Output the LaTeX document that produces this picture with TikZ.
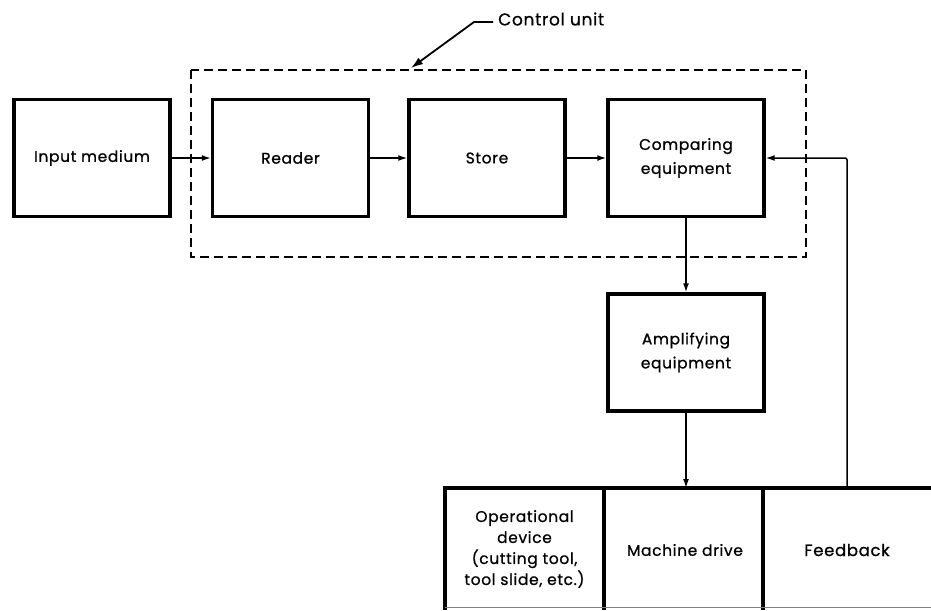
\documentclass[tikz,border=0pt]{standalone}
\usepackage{fontspec}
\setmainfont{Poppins}[FakeBold=0.8,LetterSpace=4]
\usetikzlibrary{arrows.meta}
\begin{document}
\begin{tikzpicture}[x=1pt,y=-1pt,
  block/.style={draw,line width=3.4pt,minimum width=156pt,minimum height=117pt,
    align=center,inner sep=2pt,font=\fontsize{15.5}{24}\selectfont},
  cell/.style={minimum width=156pt,minimum height=117pt,align=center,
    inner sep=2pt,font=\fontsize{15.5}{21}\selectfont},
  flow/.style={line width=1.5pt,-{Latex[length=9pt,width=6pt]}},
  frame/.style={line width=1.6pt,dash pattern=on 9pt off 5pt},
  heavy/.style={line width=3.4pt,line cap=rect},
  lbl/.style={font=\fontsize{17}{20}\selectfont,inner sep=0pt}]
\useasboundingbox (0,0) rectangle (931,610);

% top row of blocks
\node[block] (input) at (92,158)    {Input medium};
\node[block] (reader) at (290.5,158) {Reader};
\node[block] (store) at (487,158)   {Store};
\node[block] (comp) at (686,158)    {Comparing\\equipment};
\node[block] (amp) at (686,352.5)   {Amplifying\\equipment};

% control unit boundary and its label
\draw[frame] (191,70) rectangle (806,257);
\node[lbl,anchor=west] (cu) at (498,19) {Control unit};
\coordinate (cutip) at (411,68);
\draw[line width=1.8pt,-{Latex[length=12pt,width=8pt]}]
  (cu.west) ++(-5pt,-3pt) -- ++(-19pt,0) -- (cutip);

% bottom row of cells
\node[cell] (opdev) at (524.5,549) {Operational\\device\\(cutting tool,\\tool slide, etc.)};
\node[cell] (mdrive) at (685,550) {Machine drive};
\node[cell,minimum width=166pt,font=\fontsize{16.5}{20}\selectfont] (fb) at (847,550) {Feedback};
\coordinate (rowend) at (931,488);
\draw[heavy] (445,608) -- (445,488) -- (rowend);
\draw[heavy] (604,488) -- (604,608);
\draw[heavy] (763,488) -- (763,608);
\draw[line width=0.8pt,gray] (445,607.5) -- (931,607.5);

% signal flow
\draw[flow] (input) -- (reader);
\draw[flow] (reader) -- (store);
\draw[flow] (store) -- (comp);
\draw[flow] (comp) -- (amp);
\draw[flow] (amp.south) -- (amp.south |- rowend);
\draw[flow,rounded corners=2pt] (fb.north |- rowend) |- (comp.east);
\end{tikzpicture}
\end{document}
